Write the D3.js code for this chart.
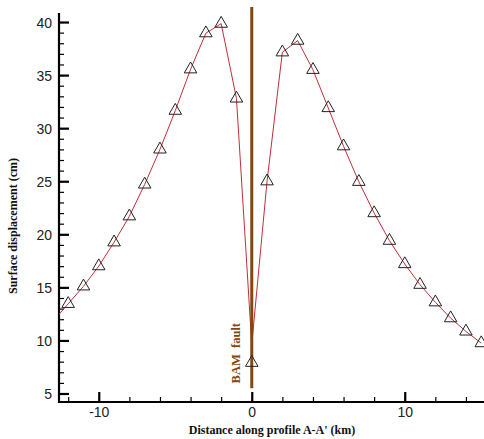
<!DOCTYPE html>
<html>
<head>
<meta charset="utf-8">
<script src="https://cdn.jsdelivr.net/npm/d3@7"></script>
<style>
  html, body { margin: 0; padding: 0; background: #fff; }
  #chart { width: 484px; height: 439px; }
  .tick-label { font-family: "Liberation Sans", Arial, sans-serif; font-size: 14px; fill: #222; }
  .axis-title { font-family: "Liberation Serif", "Times New Roman", serif; font-weight: bold; font-size: 12px; fill: #111; }
</style>
</head>
<body>
<div id="chart"></div>
<script>
//Datos
const distances = [-13, -12, -11, -10, -9, -8, -7, -6, -5, -4, -3, -2, -1, 0, 1, 2, 3, 4, 5, 6, 7, 8, 9, 10, 11, 12, 13, 14, 15];
const observed = [11.8, 13.45, 15.1, 17.0, 19.25, 21.7, 24.7, 28.0, 31.65, 35.55, 38.95, 39.85, 32.8, 7.9, 25.0, 37.15, 38.25, 35.5, 31.9, 28.3, 24.95, 22.0, 19.4, 17.2, 15.25, 13.6, 12.1, 10.85, 9.75];
const modelled = [11.8, 13.45, 15.1, 17.0, 19.25, 21.7, 24.7, 28.0, 31.65, 35.55, 38.95, 39.85, 32.8, 9.6, 25.0, 37.15, 38.25, 35.5, 31.9, 28.3, 24.95, 22.0, 19.4, 17.2, 15.25, 13.6, 12.1, 10.85, 9.75];
const xTicks = [-10, 0, 10];
const yTicks = [5, 10, 15, 20, 25, 30, 35, 40];
const faultPosition = 0;
const faultLabel = 'BAM\u00a0\u00a0fault';

const COLOR_LINE = '#bf3038',
COLOR_FAULT = '#86470f';

let margin = {top: 13, right: 0, bottom: 37, left: 59},
    width = 484 - margin.left - margin.right,
    height = 439 - margin.top - margin.bottom;

let svg = d3.select('#chart')
    .append('svg')
      .attr('width', 484)
      .attr('height', 439)
    .append('g')
      .attr('transform', 'translate(' + margin.left + ',' + margin.top + ')');

let x = d3.scaleLinear()
    .domain([-12.6, 15.2])
    .range([0, width + 0.3]);

let y = d3.scaleLinear()
    .domain([4.2, 40.85])
    .range([height, 0]);

svg.append('clipPath')
    .attr('id', 'clip')
    .append('rect')
    .attr('x', 0).attr('y', -10)
    .attr('width', width + 10).attr('height', height + 10);

//Eje X
let xAxis = svg.append('g')
    .attr('transform', 'translate(0,' + height + ')');
xAxis.call(d3.axisTop(x).tickValues(d3.range(-12, 16, 2)).tickSize(5).tickFormat(''));
xAxis.selectAll('.tick line').attr('stroke', '#000').attr('stroke-width', 1.2);
xAxis.select('.domain').remove();
let xMajor = svg.append('g')
    .attr('transform', 'translate(0,' + height + ')');
xMajor.call(d3.axisTop(x).tickValues(xTicks).tickSize(10).tickFormat(''));
xMajor.selectAll('.tick line').attr('stroke', '#000').attr('stroke-width', 2.2);
xMajor.select('.domain').remove();
xMajor.selectAll('.tick').append('text')
    .attr('class', 'tick-label')
    .attr('y', 15)
    .attr('text-anchor', 'middle')
    .text(function(d) { return d; });

svg.append('line')
    .attr('x1', 0).attr('x2', width + 2)
    .attr('y1', height).attr('y2', height)
    .attr('stroke', '#000').attr('stroke-width', 2.2);

//Eje Y
let yAxis = svg.append('g');
yAxis.call(d3.axisRight(y).tickValues(d3.range(5, 41, 1)).tickSize(5).tickFormat(''));
yAxis.selectAll('.tick line').attr('stroke', '#000').attr('stroke-width', 1.2);
yAxis.select('.domain').remove();
let yMajor = svg.append('g');
yMajor.call(d3.axisRight(y).tickValues(yTicks).tickSize(10).tickFormat(''));
yMajor.selectAll('.tick line').attr('stroke', '#000').attr('stroke-width', 2.2);
yMajor.select('.domain').remove();
yMajor.selectAll('.tick').append('text')
    .attr('class', 'tick-label')
    .attr('x', -7)
    .attr('dy', '0.36em')
    .attr('text-anchor', 'end')
    .text(function(d) { return d; });

svg.append('line')
    .attr('x1', 0).attr('x2', 0)
    .attr('y1', 0).attr('y2', height + 1)
    .attr('stroke', '#000').attr('stroke-width', 2.2);

//Curva
let data = distances.map(function(d, i) { return {x: d, obs: observed[i], mod: modelled[i]}; });

let plot = svg.append('g').attr('clip-path', 'url(#clip)');

plot.append('path')
    .datum(data)
    .attr('fill', 'none')
    .attr('stroke', COLOR_LINE)
    .attr('stroke-width', 1)
    .attr('d', d3.line().x(function(d) { return x(d.x); }).y(function(d) { return y(d.mod); }));

//Falla
plot.append('line')
    .attr('x1', x(faultPosition)).attr('x2', x(faultPosition))
    .attr('y1', -6).attr('y2', y(5.5))
    .attr('stroke', COLOR_FAULT)
    .attr('stroke-width', 3);

plot.append('text')
    .attr('class', 'axis-title')
    .attr('transform', 'translate(' + (x(faultPosition) - 16) + ',' + y(8.8) + ') rotate(-90)')
    .attr('text-anchor', 'middle')
    .attr('dy', '0.35em')
    .style('fill', COLOR_FAULT)
    .style('font-size', '12.5px')
    .text(faultLabel);

//Marcadores
plot.selectAll('.marker')
    .data(data)
    .enter()
    .append('path')
    .attr('class', 'marker')
    .attr('d', d3.symbol().type(d3.symbolTriangle).size(68))
    .attr('transform', function(d) { return 'translate(' + x(d.x) + ',' + y(d.obs) + ')'; })
    .attr('fill', 'none')
    .attr('stroke', '#222')
    .attr('stroke-width', 1);

//Títulos
svg.append('text')
    .attr('class', 'axis-title')
    .attr('x', 213)
    .attr('y', height + 32)
    .attr('text-anchor', 'middle')
    .text("Distance along profile A-A' (km)");

svg.append('text')
    .attr('class', 'axis-title')
    .attr('transform', 'translate(' + (-42) + ',' + 213 + ') rotate(-90)')
    .attr('text-anchor', 'middle')
    .text('Surface displacement (cm)');
</script>
</body>
</html>
